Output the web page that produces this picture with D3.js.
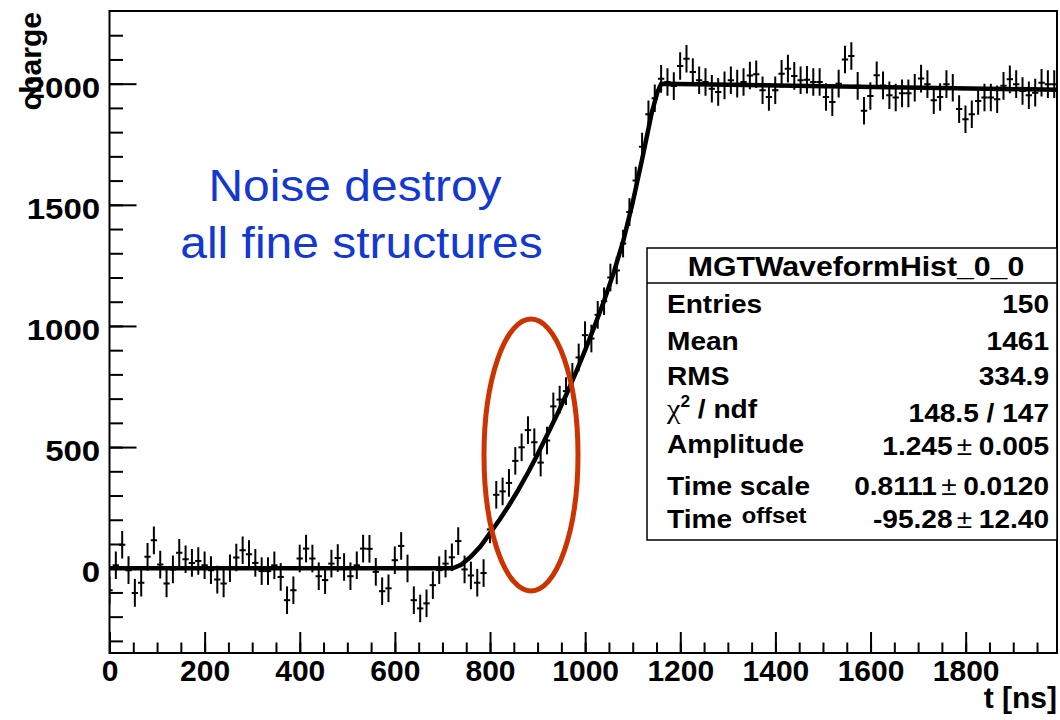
<!DOCTYPE html>
<html>
<head>
<meta charset="utf-8">
<script src="https://cdn.jsdelivr.net/npm/d3@7"></script>
<style>
  body { margin: 0; background: #fff; }
  text { font-family: "Liberation Sans", Arial, Helvetica, sans-serif; }
</style>
</head>
<body>
<svg id="chart" width="1060" height="720"></svg>
<script>
// ---- waveform samples (one per 13.33 ns bin) ----
const binWidth = 13.33;
const charge = [
  -91, 12, 97, -8, -102, -60, 47, 115, 15, -63,
  -5, 64, 37, 22, 30, 12, -8, -47, -63, 0,
  44, 74, 58, 22, -12, -12, 12, -36, -132, -91,
  40, 81, 40, -33, -49, 19, 42, 5, -33, 12,
  81, 80, -15, -95, -83, 33, 92, -1, -132, -166,
  -145, -70, -8, 19, 45, 112, -5, -30, -60, -20,
  160, 303, 317, 352, 443, 499, 570, 520, 436, 527,
  668, 696, 731, 790, 870, 962, 948, 1046, 1102, 1200,
  1229, 1340, 1470, 1600, 1740, 1874, 1940, 2020, 2007, 1990,
  2073, 2103, 2048, 2014, 2007, 1979, 1966, 1993, 2014, 2000,
  2007, 2034, 2039, 1973, 1945, 1973, 2041, 2062, 2032, 2014,
  2016, 2007, 2007, 1945, 1924, 2000, 2100, 2114, 1991, 1888,
  1949, 2035, 1993, 1952, 1943, 1960, 1960, 1983, 2021, 1998,
  1932, 1945, 1998, 1983, 1895, 1853, 1874, 1929, 1943, 1943,
  1936, 1991, 2018, 1998, 1970, 1952, 1963, 2004, 1998, 1998
];
const chargeError = 57;

// ---- fitted pulse shape ----
const fitT = [0, 722, 740, 760, 780, 800, 820, 840, 860, 880, 900, 920, 940, 960, 980,
              1000, 1020, 1040, 1060, 1080, 1100, 1120, 1140, 1152, 1160, 1992];
const fitV = [0, 0, 15, 48, 90, 145, 200, 260, 325, 395, 470, 550, 630, 715, 805,
              900, 1000, 1105, 1220, 1350, 1510, 1690, 1880, 1965, 2000, 1975];

// ---- axes ----
const xTicks = [0, 200, 400, 600, 800, 1000, 1200, 1400, 1600, 1800];
const yTicks = [0, 500, 1000, 1500, 2000];
const xTitle = "t [ns]";
const yTitle = "charge";

// ---- statistics box ----
const statTitle = "MGTWaveformHist_0_0";
const statNames = ["Entries", "Mean", "RMS", "chi2", "Amplitude", "Time scale", "Time offset"];
const statValues = ["150", "1461", "334.9", "148.5 / 147", "1.245 ± 0.005", "0.8111 ± 0.0120", "-95.28 ± 12.40"];

// ---- annotation ----
const noteLines = ["Noise destroy", "all fine structures"];

const svg = d3.select("#chart");
const frame = { left: 109.5, right: 1057, top: 11, bottom: 653 };

const x = d3.scaleLinear().domain([0, 1992]).range([frame.left, frame.right]);
const y = d3.scaleLinear().domain([-350, 2300]).range([frame.bottom, frame.top]);

svg.append("rect").attr("width", 1060).attr("height", 720).attr("fill", "#fff");

svg.append("defs").append("clipPath").attr("id", "plotArea")
  .append("rect")
  .attr("x", frame.left).attr("y", frame.top)
  .attr("width", frame.right - frame.left).attr("height", frame.bottom - frame.top);

// ticks
function styleAxis(g) {
  g.select(".domain").remove();
  g.selectAll(".tick line").attr("stroke", "#000").attr("stroke-width", 2);
  g.attr("font-family", "'Liberation Sans', Arial, sans-serif")
   .attr("font-size", 30).attr("font-weight", "bold");
  g.selectAll(".tick text").attr("fill", "#000");
}

svg.append("g").attr("transform", `translate(${frame.left},0)`)
  .call(d3.axisLeft(y).tickValues(d3.range(-300, 2201, 100)).tickSize(-13.5).tickFormat(""))
  .call(styleAxis);
svg.append("g").attr("transform", `translate(${frame.left},0)`)
  .call(d3.axisLeft(y).tickValues(yTicks).tickSize(-27).tickPadding(9).tickFormat(d3.format("d")))
  .call(styleAxis)
  .selectAll(".tick text")
  .attr("dy", "0.45em")
  .attr("x", -8.5)
  .attr("transform", "scale(1.1,1)");

svg.append("g").attr("transform", `translate(0,${frame.bottom})`)
  .call(d3.axisBottom(x).tickValues(d3.range(0, 1951, 50)).tickSize(-10.5).tickFormat(""))
  .call(styleAxis);
svg.append("g").attr("transform", `translate(0,${frame.bottom})`)
  .call(d3.axisBottom(x).tickValues(xTicks).tickSize(-21).tickPadding(7).tickFormat(d3.format("d")))
  .call(styleAxis);

// axis titles
svg.append("text")
  .attr("x", frame.right).attr("y", 708)
  .attr("text-anchor", "end")
  .attr("font-size", 30).attr("font-weight", "bold")
  .text(xTitle);
svg.append("text")
  .attr("transform", `translate(41,12) rotate(-90)`)
  .attr("text-anchor", "end")
  .attr("font-size", 30).attr("font-weight", "bold")
  .text(yTitle);

// data points with error bars
const points = charge.map((v, i) => ({ t: i * binWidth, v }));
const marks = svg.append("g").attr("clip-path", "url(#plotArea)")
  .attr("stroke", "#000").attr("stroke-width", 2);

marks.selectAll("line.err").data(points).join("line")
  .attr("class", "err")
  .attr("x1", d => x(d.t)).attr("x2", d => x(d.t))
  .attr("y1", d => y(d.v - chargeError)).attr("y2", d => y(d.v + chargeError));
marks.selectAll("line.bin").data(points).join("line")
  .attr("class", "bin")
  .attr("x1", d => x(d.t - binWidth / 2)).attr("x2", d => x(d.t + binWidth / 2))
  .attr("y1", d => y(d.v)).attr("y2", d => y(d.v));

// fit curve
const fitPts = fitT.map((t, i) => [t, fitV[i]]);
marks.append("path")
  .datum(fitPts)
  .attr("fill", "none").attr("stroke", "#000").attr("stroke-width", 4.5)
  .attr("stroke-linejoin", "round")
  .attr("d", d3.line().x(d => x(d[0])).y(d => y(d[1])));

// frame
svg.append("rect")
  .attr("x", frame.left).attr("y", frame.top)
  .attr("width", frame.right - frame.left).attr("height", frame.bottom - frame.top)
  .attr("fill", "none").attr("stroke", "#000").attr("stroke-width", 2);

// statistics box
const box = { x: 647, y: 248, w: 410, h: 292, split: 283 };
const stats = svg.append("g");
stats.append("rect")
  .attr("x", box.x).attr("y", box.y).attr("width", box.w).attr("height", box.h)
  .attr("fill", "#fff").attr("stroke", "#000").attr("stroke-width", 1.5);
stats.append("line")
  .attr("x1", box.x).attr("x2", box.x + box.w).attr("y1", box.split).attr("y2", box.split)
  .attr("stroke", "#000").attr("stroke-width", 1.5);

const sx = 1.08;
stats.append("text")
  .attr("transform", `translate(856,276) scale(${sx},1)`)
  .attr("text-anchor", "middle").attr("font-size", 28).attr("font-weight", "bold")
  .text(statTitle);

const rowY = [313, 350, 385, 418, 453, 495, 528];
statNames.forEach((name, i) => {
  const lab = stats.append("text")
    .attr("transform", `translate(667,${rowY[i]}) scale(${sx},1)`)
    .attr("font-size", 26).attr("font-weight", "bold");
  if (name === "chi2") {
    lab.append("tspan").attr("font-family", "'Liberation Serif', serif")
      .attr("font-weight", "normal").attr("font-size", 28).text("χ");
    lab.append("tspan").attr("font-size", 16).attr("dy", -11).text("2");
    lab.append("tspan").attr("dy", 11).text(" / ndf");
  } else if (name === "Time offset") {
    const [a, b] = name.split(" ");
    lab.append("tspan").text(a);
    lab.append("tspan").attr("font-size", 22).attr("dx", 9).attr("dy", -5).text(b);
  } else {
    lab.text(name);
  }

  const val = stats.append("text")
    .attr("transform", `translate(1049,${rowY[i] + (i === 3 ? 4 : i === 4 ? 2 : 0)}) scale(${sx},1)`)
    .attr("text-anchor", "end").attr("font-size", 26).attr("font-weight", "bold");
  const parts = statValues[i].split("±");
  if (parts.length === 2) {
    val.append("tspan").text(parts[0].trim());
    val.append("tspan").attr("font-weight", "normal").attr("dx", 4).text("±");
    val.append("tspan").attr("dx", 6).text(parts[1].trim());
  } else {
    val.text(statValues[i]);
  }
});

// annotation
const note = svg.append("g").attr("fill", "#1438d2");
note.append("text")
  .attr("transform", `translate(355,201) scale(1.09,1)`)
  .attr("text-anchor", "middle").attr("font-size", 44)
  .text(noteLines[0]);
note.append("text")
  .attr("transform", `translate(361.5,258) scale(1.09,1)`)
  .attr("text-anchor", "middle").attr("font-size", 44)
  .text(noteLines[1]);

svg.append("ellipse")
  .attr("cx", 531).attr("cy", 455).attr("rx", 47).attr("ry", 136)
  .attr("fill", "none").attr("stroke", "#cc3300").attr("stroke-width", 5);
</script>
</body>
</html>
